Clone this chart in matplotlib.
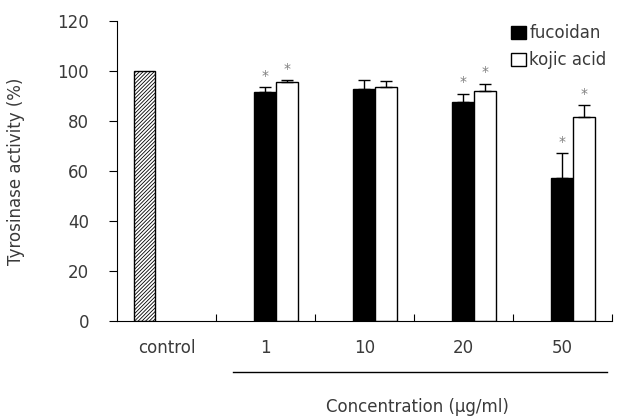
import matplotlib.pyplot as plt
import numpy as np

categories = ["control", "1", "10", "20", "50"]
control = [100]
fucoidan = [91.6, 92.7, 87.6, 57.2]
fucoidan_err = [1.9, 3.7, 3.3, 9.9]
kojic = [95.5, 93.5, 92.1, 81.5]
kojic_err = [0.8, 2.5, 2.8, 4.8]
fucoidan_star = [True, False, True, True]
kojic_star = [True, False, True, True]

txt = "#3a3a3a"
plt.rcParams['font.family'] = ['DejaVu Sans']
plt.rcParams['hatch.linewidth'] = 0.6

fig = plt.figure(figsize=(6.21, 4.19), dpi=100)
ax = fig.add_axes([0.1884, 0.2339, 0.7966, 0.7167])

w = 0.222
x = np.arange(len(categories))
xd = x[1:]
ekw = dict(ecolor="black", elinewidth=1, capthick=1)

ax.bar(x[0] - w, control, w, facecolor="white", edgecolor="black", hatch="/////////", linewidth=1)
ax.bar(xd, fucoidan, w, color="black", edgecolor="black", linewidth=1,
       yerr=[np.zeros(4), fucoidan_err], capsize=4, error_kw=ekw, label="fucoidan")
ax.bar(xd + w, kojic, w, color="white", edgecolor="black", linewidth=1,
       yerr=[np.zeros(4), kojic_err], capsize=4, error_kw=ekw, label="kojic acid")

for i in range(4):
    if fucoidan_star[i]:
        ax.text(xd[i], fucoidan[i] + fucoidan_err[i] + 4.5, "*", ha="center", va="center",
                color="#808080", fontsize=10)
    if kojic_star[i]:
        ax.text(xd[i] + w, kojic[i] + kojic_err[i] + 4.5, "*", ha="center", va="center",
                color="#808080", fontsize=10)

ax.set_xlim(-0.5, 4.5)
ax.set_ylim(0, 120)
ax.set_yticks(range(0, 121, 20))
ax.set_xticks(np.arange(0.5, 4.6, 1))
ax.set_xticklabels([])
ax.tick_params(axis="x", direction="in", length=5, color="black")
ax.tick_params(axis="y", direction="out", length=6, pad=14, labelsize=12, labelcolor=txt)
for i, c in enumerate(categories):
    ax.text(i, -10.7, c, ha="center", va="center", fontsize=12, color=txt)
ax.spines["top"].set_visible(False)
ax.spines["right"].set_visible(False)
ax.set_ylabel("Tyrosinase activity (%)", fontsize=12, color=txt)
ax.yaxis.set_label_coords(-0.186, 0.5)

# underline beneath concentration labels
fig.add_artist(plt.Line2D([233 / 621, 607 / 621], [1 - 372 / 419, 1 - 372 / 419], color="black", linewidth=1))
fig.text(417 / 621, 1 - 407 / 419, "Concentration (\u03bcg/ml)", ha="center", va="center", fontsize=12, color=txt)

fig.legend(loc="upper left", bbox_to_anchor=(511 / 621, 1 - 24 / 419), frameon=False, fontsize=12,
           handlelength=0.9, handleheight=0.8, handletextpad=0.2, labelspacing=0.55,
           borderpad=0, borderaxespad=0, labelcolor=txt)

fig.savefig("out.png", dpi=100)
